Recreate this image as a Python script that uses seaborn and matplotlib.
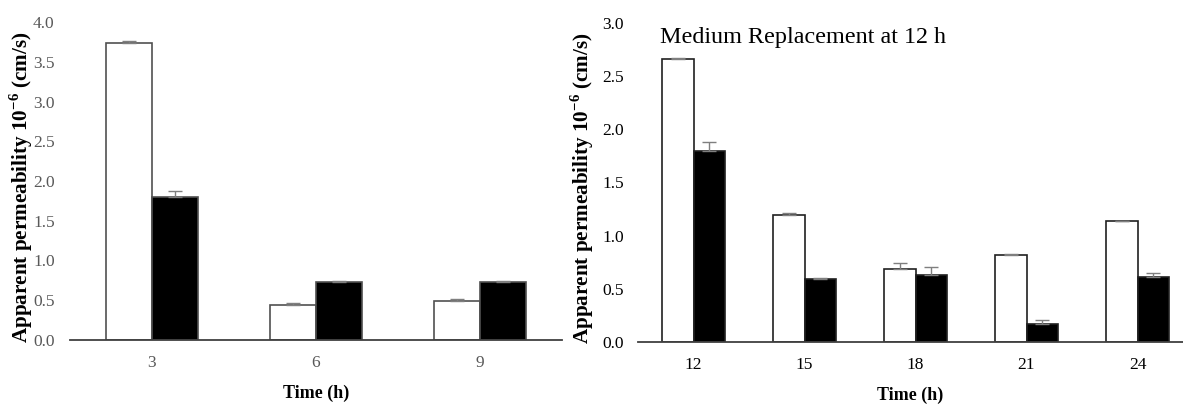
import numpy as np
import pandas as pd
import matplotlib
matplotlib.use("Agg")
import matplotlib.pyplot as plt
import seaborn as sns

# Apparent permeability (x10^-6 cm/s), two conditions per time point
times_a = ["3", "6", "9"]
open_a = [3.74, 0.44, 0.49]
open_a_err = [0.02, 0.02, 0.02]
filled_a = [1.80, 0.73, 0.73]
filled_a_err = [0.08, 0.01, 0.01]

times_b = ["12", "15", "18", "21", "24"]
open_b = [2.66, 1.19, 0.69, 0.82, 1.14]
open_b_err = [0.01, 0.02, 0.05, 0.01, 0.00]
filled_b = [1.80, 0.59, 0.63, 0.17, 0.61]
filled_b_err = [0.08, 0.01, 0.08, 0.04, 0.04]

groups = ["Control", "Treated"]
yticks_a = [0.0, 0.5, 1.0, 1.5, 2.0, 2.5, 3.0, 3.5, 4.0]
yticks_b = [0.0, 0.5, 1.0, 1.5, 2.0, 2.5, 3.0]

sns.set_theme(style="white")
plt.rcParams["font.family"] = ["Liberation Serif", "DejaVu Serif"]
plt.rcParams["mathtext.fontset"] = "custom"
plt.rcParams["mathtext.rm"] = "Liberation Serif"
plt.rcParams["mathtext.bf"] = "Liberation Serif:bold"

W, H = 1183, 407
fig = plt.figure(figsize=(W / 100, H / 100), dpi=100)


def frame(df_times, a, ae, b, be):
    rows = []
    for t, v, e in zip(df_times, a, ae):
        rows.append((t, groups[0], v, e))
    for t, v, e in zip(df_times, b, be):
        rows.append((t, groups[1], v, e))
    return pd.DataFrame(rows, columns=["time", "group", "value", "err"])


def panel(rect, df, order, ylim, yticks, tick_color, edge_color, xmax,
          ypad, ylab_x, ylab_y, xlab_y):
    ax = fig.add_axes(rect)
    sns.barplot(data=df, x="time", y="value", hue="group", order=order,
                hue_order=groups, palette=["white", "black"], width=0.567,
                gap=0, errorbar=None, edgecolor=edge_color, linewidth=1.2,
                legend=False, ax=ax)
    # upper-only error bars placed at the centres of the drawn bars
    bars = [p for p in ax.patches]
    for grp, bar_set in zip(groups, [bars[:len(order)], bars[len(order):]]):
        sub = df[df["group"] == grp].set_index("time").loc[order]
        xs = [p.get_x() + p.get_width() / 2 for p in bar_set]
        ax.errorbar(xs, sub["value"].values,
                    yerr=[np.zeros(len(order)), sub["err"].values],
                    fmt="none", ecolor="#7f7f7f", elinewidth=1.0,
                    capsize=5, capthick=1.0, zorder=1)
    ax.set_ylim(*ylim)
    ax.set_xlim(-0.5, xmax)
    ax.set_yticks(yticks)
    ax.set_yticklabels([f"{v:.1f}" for v in yticks])
    ax.tick_params(axis="both", length=0, labelsize=12.5, colors=tick_color)
    ax.tick_params(axis="y", pad=ypad)
    ax.tick_params(axis="x", pad=11)
    for s in ["top", "right", "left"]:
        ax.spines[s].set_visible(False)
    ax.spines["bottom"].set_color("#404040")
    ax.spines["bottom"].set_linewidth(1.3)
    ax.set_xlabel("Time (h)", fontsize=13, fontweight="bold", color="black")
    ax.xaxis.set_label_coords(0.5, xlab_y)
    ax.set_ylabel(r"Apparent permeability 10$^{\mathbf{-6}}$ (cm/s)",
                  fontsize=15.2, fontweight="bold", color="black")
    ax.yaxis.set_label_coords(ylab_x, ylab_y)
    ax.xaxis.label.set_va("center")
    ax.yaxis.label.set_va("center")
    return ax


df_a = frame(times_a, open_a, open_a_err, filled_a, filled_a_err)
df_b = frame(times_b, open_b, open_b_err, filled_b, filled_b_err)

ax1 = panel([70 / W, 1 - 340 / H, 492 / W, 318 / H], df_a, times_a,
            (0, 4.0), yticks_a, "#595959", "#505050", 2.5,
            11, (21 - 70) / 492, 0.48, -(393 - 340) / 318)
ax2 = panel([638 / W, 1 - 342 / H, 545 / W, 319 / H], df_b, times_b,
            (0, 3.0), yticks_b, "black", "#202020", -0.5 + 545 / 111,
            10, (582 - 638) / 545, 0.483, -(395 - 342) / 319)

ax2.text(660 / W, 1 - 38 / H, "Medium Replacement at 12 h",
         transform=fig.transFigure, fontsize=17.4, ha="left", va="center",
         color="black")

fig.savefig("out.png", dpi=100)
